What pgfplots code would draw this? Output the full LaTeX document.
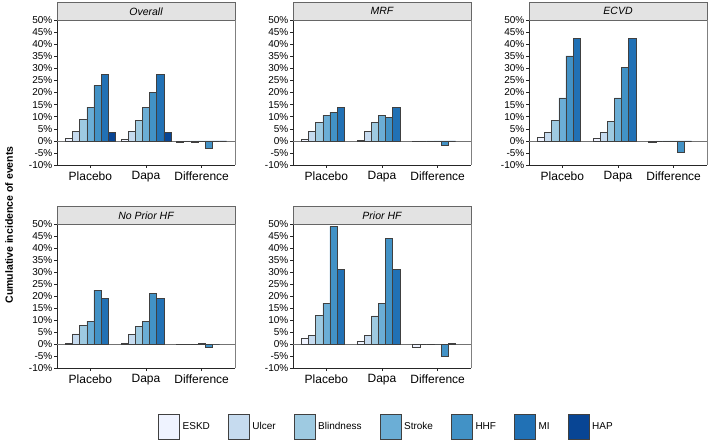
\documentclass[border=0pt]{standalone}
\usepackage{pgfplots}
\pgfplotsset{compat=1.18}
\usepackage{fontspec}
\setmainfont{Liberation Sans}
\definecolor{c1}{HTML}{EFF3FF}
\definecolor{c2}{HTML}{C6DBEF}
\definecolor{c3}{HTML}{9ECAE1}
\definecolor{c4}{HTML}{6BAED6}
\definecolor{c5}{HTML}{4292C6}
\definecolor{c6}{HTML}{2171B5}
\definecolor{c7}{HTML}{084594}
\definecolor{stripfill}{HTML}{E3E3E3}
\pgfplotsset{
  panel/.style={
    scale only axis, width=178pt, height=145pt, anchor=south west,
    xmin=0.4, xmax=3.6, ymin=-10, ymax=50,
    xtick={1,2,3}, xticklabels={Placebo,Dapa,Difference},
    ytick={-10,-5,...,50},
    yticklabels={-10\%,-5\%,0\%,5\%,10\%,15\%,20\%,25\%,30\%,35\%,40\%,45\%,50\%},
    axis x line*=bottom, axis y line*=left,
    tick align=outside, major tick length=3pt,
    tick style={black!85, line width=0.5pt},
    axis line style={black!85, line width=0.6pt},
    x tick label style={font=\fontsize{12}{12}\selectfont},
    y tick label style={font=\fontsize{10}{10}\selectfont, inner sep=1.5pt},
    extra y ticks={0}, extra y tick labels={},
    extra y tick style={grid=major, major grid style={black!55, line width=0.5pt}, major tick length=0pt},
    clip=false,
  },
  bs/.style n args={2}{ybar, bar width=0.1286, bar shift=#2, draw=black!75, line width=0.5pt, fill=#1,
    legend image code/.code={\draw[fill=#1, draw=black!75, line width=0.5pt] (0pt,-12.5pt) rectangle (21pt,12.5pt);}},
}
\newcommand{\strip}[2]{%
  \draw[fill=stripfill, draw=black!60, line width=0.5pt] (#1.north west) rectangle ([yshift=17.5pt]#1.north east);
  \node[font=\fontsize{10.5}{10.5}\selectfont\itshape] at ([yshift=8.75pt]$(#1.north west)!0.5!(#1.north east)$) {#2};
  \draw[black!50, line width=0.5pt] (#1.south east) -- (#1.north east);
}
\usetikzlibrary{calc}
\begin{document}
\begin{tikzpicture}[x=1pt,y=1pt]
\useasboundingbox (0,0) rectangle (709,442);
% Overall
\begin{axis}[panel, name=p1, at={(57pt,277pt)}]
\addplot[bs={c1}{-0.3857}] coordinates {(1,1.0) (2,0.5) (3,-0.4)};
\addplot[bs={c2}{-0.2571}] coordinates {(1,4.0) (2,4.0) (3,-0.1)};
\addplot[bs={c3}{-0.1286}] coordinates {(1,9.0) (2,8.5) (3,-0.4)};
\addplot[bs={c4}{0}] coordinates {(1,14.0) (2,14.0) (3,0)};
\addplot[bs={c5}{0.1286}] coordinates {(1,23.0) (2,20.0) (3,-3.0)};
\addplot[bs={c6}{0.2571}] coordinates {(1,27.5) (2,27.5) (3,0)};
\addplot[bs={c7}{0.3857}] coordinates {(1,3.5) (2,3.5) (3,0)};
\end{axis}
\strip{p1}{Overall}
% MRF
\begin{axis}[panel, name=p2, at={(293pt,277pt)}]
\addplot[bs={c1}{-0.3857}] coordinates {(1,0.5) (2,0.3) (3,-0.3)};
\addplot[bs={c2}{-0.2571}] coordinates {(1,4.0) (2,3.8) (3,-0.1)};
\addplot[bs={c3}{-0.1286}] coordinates {(1,7.5) (2,7.5) (3,-0.3)};
\addplot[bs={c4}{0}] coordinates {(1,10.5) (2,10.5) (3,0)};
\addplot[bs={c5}{0.1286}] coordinates {(1,11.8) (2,9.8) (3,-2.0)};
\addplot[bs={c6}{0.2571}] coordinates {(1,13.8) (2,13.8) (3,0)};
\end{axis}
\strip{p2}{MRF}
% ECVD
\begin{axis}[panel, name=p3, at={(529pt,277pt)}]
\addplot[bs={c1}{-0.3857}] coordinates {(1,1.5) (2,1.0) (3,-0.5)};
\addplot[bs={c2}{-0.2571}] coordinates {(1,3.5) (2,3.5) (3,0)};
\addplot[bs={c3}{-0.1286}] coordinates {(1,8.5) (2,8.2) (3,-0.3)};
\addplot[bs={c4}{0}] coordinates {(1,17.8) (2,17.8) (3,0)};
\addplot[bs={c5}{0.1286}] coordinates {(1,35.2) (2,30.5) (3,-4.7)};
\addplot[bs={c6}{0.2571}] coordinates {(1,42.5) (2,42.5) (3,0)};
\end{axis}
\strip{p3}{ECVD}
% No Prior HF
\begin{axis}[panel, name=p4, at={(57pt,74pt)}, height=144pt]
\addplot[bs={c1}{-0.3857}] coordinates {(1,0.5) (2,0.5) (3,-0.2)};
\addplot[bs={c2}{-0.2571}] coordinates {(1,4.2) (2,4.0) (3,-0.1)};
\addplot[bs={c3}{-0.1286}] coordinates {(1,7.8) (2,7.5) (3,-0.2)};
\addplot[bs={c4}{0}] coordinates {(1,9.5) (2,9.5) (3,0.3)};
\addplot[bs={c5}{0.1286}] coordinates {(1,22.5) (2,21.2) (3,-1.4)};
\addplot[bs={c6}{0.2571}] coordinates {(1,19.0) (2,19.0) (3,0)};
\end{axis}
\strip{p4}{No Prior HF}
% Prior HF
\begin{axis}[panel, name=p5, at={(293pt,74pt)}, height=144pt,
  legend columns=7,
  legend style={at={(0.525,-0.41)}, anchor=center, draw=none, fill=none,
    font=\fontsize{10}{10}\selectfont,
    /tikz/every odd column/.append style={column sep=1pt},
    /tikz/every even column/.append style={column sep=16pt}},
  legend cell align=left]
\addplot[bs={c1}{-0.3857}] coordinates {(1,2.5) (2,1.2) (3,-1.2)};
\addlegendentry{ESKD}
\addplot[bs={c2}{-0.2571}] coordinates {(1,3.5) (2,3.5) (3,-0.1)};
\addlegendentry{Ulcer}
\addplot[bs={c3}{-0.1286}] coordinates {(1,12.0) (2,11.7) (3,-0.3)};
\addlegendentry{Blindness}
\addplot[bs={c4}{0}] coordinates {(1,17.0) (2,17.0) (3,0)};
\addlegendentry{Stroke}
\addplot[bs={c5}{0.1286}] coordinates {(1,49.0) (2,44.0) (3,-5.0)};
\addlegendentry{HHF}
\addplot[bs={c6}{0.2571}] coordinates {(1,31.0) (2,31.0) (3,0.2)};
\addlegendentry{MI}
\addlegendimage{bs={c7}{0.3857}}
\addlegendentry{HAP}
\end{axis}
\strip{p5}{Prior HF}
\node[rotate=90, font=\fontsize{10.5}{10.5}\selectfont\bfseries] at (9,217) {Cumulative incidence of events};
\end{tikzpicture}
\end{document}
